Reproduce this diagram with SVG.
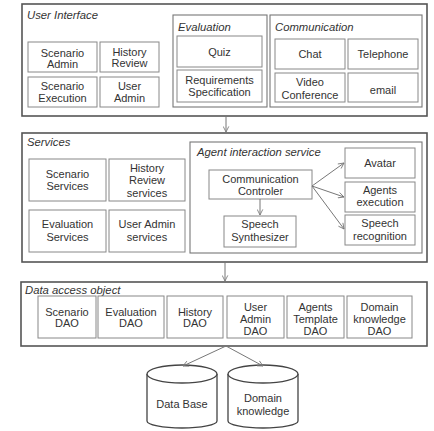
<svg xmlns="http://www.w3.org/2000/svg" width="434" height="431" viewBox="0 0 434 431">
<defs>
<style>
.lay{fill:#fff;stroke:#555;stroke-width:1.6}
.grp{fill:#fff;stroke:#777;stroke-width:1.1}
.b{fill:#fff;stroke:#888;stroke-width:1}
.t{font-family:"Liberation Sans",Arial,sans-serif;font-size:11px;fill:#333;text-anchor:middle}
.lbl{font-family:"Liberation Sans",Arial,sans-serif;font-size:11.3px;fill:#333;font-style:italic}
.c{stroke:#777;stroke-width:1;fill:none}
.db{fill:#fff;stroke:#444;stroke-width:1.3}
</style>
<marker id="ah" viewBox="0 0 10 10" refX="9" refY="5" markerWidth="7" markerHeight="7" orient="auto">
<path d="M1,1 L9,5 L1,9" fill="none" stroke="#777" stroke-width="1.2"/>
</marker>
</defs>
<rect width="434" height="431" fill="#fff"/>

<g id="ui">
<rect class="lay" x="22" y="4" width="405" height="112"/>
<text class="lbl" x="27" y="19">User Interface</text>
<g id="scenario-admin"><rect class="b" x="28" y="42" width="69" height="30"/><text class="t" x="62.5" y="57">Scenario</text><text class="t" x="62.5" y="68">Admin</text></g>
<g id="history-review"><rect class="b" x="100" y="42" width="59" height="30"/><text class="t" x="129.5" y="56">History</text><text class="t" x="129.5" y="67">Review</text></g>
<g id="scenario-execution"><rect class="b" x="28" y="77" width="69" height="30"/><text class="t" x="62.5" y="90">Scenario</text><text class="t" x="62.5" y="102">Execution</text></g>
<g id="user-admin"><rect class="b" x="100" y="77" width="59" height="30"/><text class="t" x="129.5" y="90">User</text><text class="t" x="129.5" y="102">Admin</text></g>
<g id="evaluation">
<rect class="grp" x="173" y="15" width="94" height="92"/>
<text class="lbl" x="178" y="31">Evaluation</text>
<g id="quiz"><rect class="b" x="177" y="36" width="85" height="31"/><text class="t" x="219.5" y="56">Quiz</text></g>
<g id="req-spec"><rect class="b" x="177" y="70" width="85" height="32"/><text class="t" x="219.5" y="84">Requirements</text><text class="t" x="219.5" y="96">Specification</text></g>
</g>
<g id="communication">
<rect class="grp" x="270" y="15" width="152" height="92"/>
<text class="lbl" x="275" y="31">Communication</text>
<g id="chat"><rect class="b" x="275" y="39" width="70" height="30"/><text class="t" x="310" y="58">Chat</text></g>
<g id="telephone"><rect class="b" x="348" y="39" width="70" height="30"/><text class="t" x="383" y="58">Telephone</text></g>
<g id="video-conf"><rect class="b" x="275" y="73" width="70" height="29"/><text class="t" x="310" y="86">Video</text><text class="t" x="310" y="99">Conference</text></g>
<g id="email"><rect class="b" x="348" y="73" width="70" height="29"/><text class="t" x="383" y="94">email</text></g>
</g>
</g>

<g id="services">
<rect class="lay" x="22" y="133" width="405" height="129"/>
<text class="lbl" x="27" y="146">Services</text>
<g id="scenario-services"><rect class="b" x="29" y="159" width="77" height="42"/><text class="t" x="67.5" y="178">Scenario</text><text class="t" x="67.5" y="190">Services</text></g>
<g id="history-services"><rect class="b" x="109" y="159" width="76" height="42"/><text class="t" x="147" y="172">History</text><text class="t" x="147" y="184">Review</text><text class="t" x="147" y="197">services</text></g>
<g id="evaluation-services"><rect class="b" x="29" y="210" width="77" height="42"/><text class="t" x="67.5" y="228">Evaluation</text><text class="t" x="67.5" y="241">Services</text></g>
<g id="useradmin-services"><rect class="b" x="109" y="210" width="76" height="42"/><text class="t" x="147" y="228">User Admin</text><text class="t" x="147" y="241">services</text></g>
<g id="agent-interaction">
<rect class="grp" x="190" y="142" width="232" height="111"/>
<text class="lbl" x="197" y="156">Agent interaction service</text>
<g id="comm-controler"><rect class="b" x="209" y="170" width="103" height="29"/><text class="t" x="260.5" y="183">Communication</text><text class="t" x="260.5" y="195">Controler</text></g>
<g id="speech-synth"><rect class="b" x="224" y="216" width="72" height="31"/><text class="t" x="260" y="228">Speech</text><text class="t" x="260" y="241">Synthesizer</text></g>
<g id="avatar"><rect class="b" x="345" y="148" width="70" height="30"/><text class="t" x="380" y="167">Avatar</text></g>
<g id="agents-execution"><rect class="b" x="345" y="182" width="70" height="30"/><text class="t" x="380" y="194">Agents</text><text class="t" x="380" y="206">execution</text></g>
<g id="speech-recognition"><rect class="b" x="345" y="215" width="70" height="30"/><text class="t" x="380" y="227">Speech</text><text class="t" x="380" y="240">recognition</text></g>
</g>
</g>

<g id="dao">
<rect class="lay" x="21" y="282" width="406" height="64"/>
<text class="lbl" x="25" y="294">Data access object</text>
<g id="scenario-dao"><rect class="b" x="38" y="296" width="58" height="42"/><text class="t" x="67" y="316">Scenario</text><text class="t" x="67" y="327">DAO</text></g>
<g id="evaluation-dao"><rect class="b" x="98" y="296" width="66" height="42"/><text class="t" x="131" y="316">Evaluation</text><text class="t" x="131" y="327">DAO</text></g>
<g id="history-dao"><rect class="b" x="167" y="296" width="56" height="42"/><text class="t" x="195" y="316">History</text><text class="t" x="195" y="327">DAO</text></g>
<g id="useradmin-dao"><rect class="b" x="227" y="296" width="57" height="42"/><text class="t" x="255.5" y="311">User</text><text class="t" x="255.5" y="323">Admin</text><text class="t" x="255.5" y="335">DAO</text></g>
<g id="agents-template-dao"><rect class="b" x="287" y="296" width="57" height="42"/><text class="t" x="315.5" y="311">Agents</text><text class="t" x="315.5" y="323">Template</text><text class="t" x="315.5" y="335">DAO</text></g>
<g id="domain-dao"><rect class="b" x="347" y="296" width="65" height="42"/><text class="t" x="379.5" y="311">Domain</text><text class="t" x="379.5" y="323">knowledge</text><text class="t" x="379.5" y="335">DAO</text></g>
</g>

<g id="database">
<path class="db" d="M147,374 L147,421 A35,7 0 0 0 217,421 L217,374"/>
<ellipse class="db" cx="182" cy="374" rx="35" ry="9"/>
<text class="t" x="182" y="408">Data Base</text>
</g>
<g id="domain-knowledge">
<path class="db" d="M228,374 L228,421 A35,7 0 0 0 298,421 L298,374"/>
<ellipse class="db" cx="263" cy="374" rx="35" ry="9"/>
<text class="t" x="263" y="402">Domain</text>
<text class="t" x="263" y="415">knowledge</text>
</g>

<g id="connectors">
<line class="c" x1="226" y1="116" x2="226" y2="132" marker-end="url(#ah)"/>
<line class="c" x1="225" y1="262" x2="225" y2="281" marker-end="url(#ah)"/>
<line class="c" x1="312" y1="186" x2="344" y2="163" marker-end="url(#ah)"/>
<line class="c" x1="312" y1="186" x2="344" y2="197" marker-end="url(#ah)"/>
<line class="c" x1="312" y1="186" x2="344" y2="229" marker-end="url(#ah)"/>
<line class="c" x1="260" y1="199" x2="260" y2="215" marker-end="url(#ah)"/>
<line class="c" x1="226" y1="346" x2="183" y2="366" marker-end="url(#ah)"/>
<line class="c" x1="226" y1="346" x2="263" y2="366" marker-end="url(#ah)"/>
</g>
</svg>
